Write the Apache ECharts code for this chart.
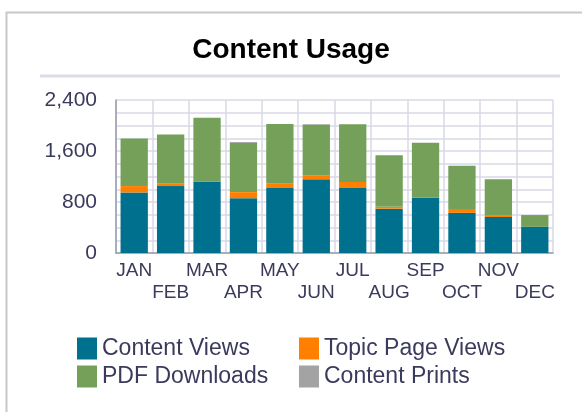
<!DOCTYPE html>
<html>
<head>
<meta charset="utf-8">
<script src="https://cdn.jsdelivr.net/npm/echarts@6/dist/echarts.min.js"></script>
<style>
html,body{margin:0;padding:0;background:#fff;}
#c{width:582px;height:412px;}
</style>
</head>
<body>
<div id="c"></div>
<script>
var months = ['JAN','FEB','MAR','APR','MAY','JUN','JUL','AUG','SEP','OCT','NOV','DEC'];
var contentViews = [950, 1050, 1120, 860, 1020, 1155, 1020, 695, 865, 630, 565, 410];
var topicPageViews = [100, 35, 0, 95, 65, 55, 95, 30, 0, 60, 30, 0];
var pdfDownloads = [745, 775, 1000, 770, 940, 800, 905, 810, 865, 680, 560, 185];
var contentPrints = [0, 0, 0, 15, 0, 10, 0, 0, 0, 0, 0, 0];
var yTicks = [0, 800, 1600, 2400];

var txt = '#3a3a5c';
var font = 'Liberation Sans, Arial, sans-serif';
var chart = echarts.init(document.getElementById('c'));
function bar(name, data, color) {
  return {
    name: name, type: 'bar', stack: 'total', data: data,
    barCategoryGap: '25%',
    itemStyle: { color: color },
    emphasis: { disabled: true }
  };
}
chart.setOption({
  animation: false,
  textStyle: { fontFamily: font },
  title: {
    text: 'Content Usage', left: 'center', top: 31,
    textStyle: { fontSize: 28, fontWeight: 'bold', color: '#000', fontFamily: font }
  },
  graphic: [
    { type: 'rect', shape: { x: 6.5, y: 12.5, width: 700, height: 600 },
      style: { fill: 'none', stroke: '#c8c8c8', lineWidth: 2 }, silent: true },
    { type: 'line', shape: { x1: 40, y1: 76, x2: 560, y2: 76 },
      style: { stroke: '#dcdce8', lineWidth: 3 }, silent: true }
  ],
  grid: { left: 116, right: 29, top: 100, bottom: 159 },
  legend: [
    { data: ['Content Views', 'PDF Downloads'], orient: 'vertical', left: 77, top: 337,
      itemWidth: 20, itemHeight: 22, itemGap: 5, padding: 0, icon: 'rect',
      textStyle: { fontSize: 23, color: txt, fontFamily: font } },
    { data: ['Topic Page Views', 'Content Prints'], orient: 'vertical', left: 299, top: 337,
      itemWidth: 20, itemHeight: 22, itemGap: 5, padding: 0, icon: 'rect',
      textStyle: { fontSize: 23, color: txt, fontFamily: font } }
  ],
  xAxis: {
    type: 'category', data: months,
    axisLine: { lineStyle: { color: '#9a9ab0', width: 1.5 } },
    axisTick: { show: false },
    splitLine: { show: true, lineStyle: { color: '#d8d8e6', width: 1.5 } },
    axisLabel: {
      interval: 0, margin: 7, fontSize: 19, lineHeight: 22, color: txt,
      formatter: function (v, i) { return i % 2 ? '\n' + v : v; }
    }
  },
  yAxis: {
    type: 'value', min: 0, max: 2400, interval: 200,
    axisLine: { show: true, lineStyle: { color: '#9a9ab0', width: 1.5 } },
    axisTick: { show: false },
    splitLine: { lineStyle: { color: '#d8d8e6', width: 1.5 } },
    axisLabel: {
      margin: 19, fontSize: 21, color: txt,
      formatter: function (v) { return yTicks.indexOf(v) >= 0 ? v.toLocaleString('en-US') : ''; }
    }
  },
  series: [
    bar('Content Views', contentViews, '#00708f'),
    bar('Topic Page Views', topicPageViews, '#ff8000'),
    bar('PDF Downloads', pdfDownloads, '#74a05a'),
    bar('Content Prints', contentPrints, '#a3a3a3')
  ]
});
</script>
</body>
</html>
